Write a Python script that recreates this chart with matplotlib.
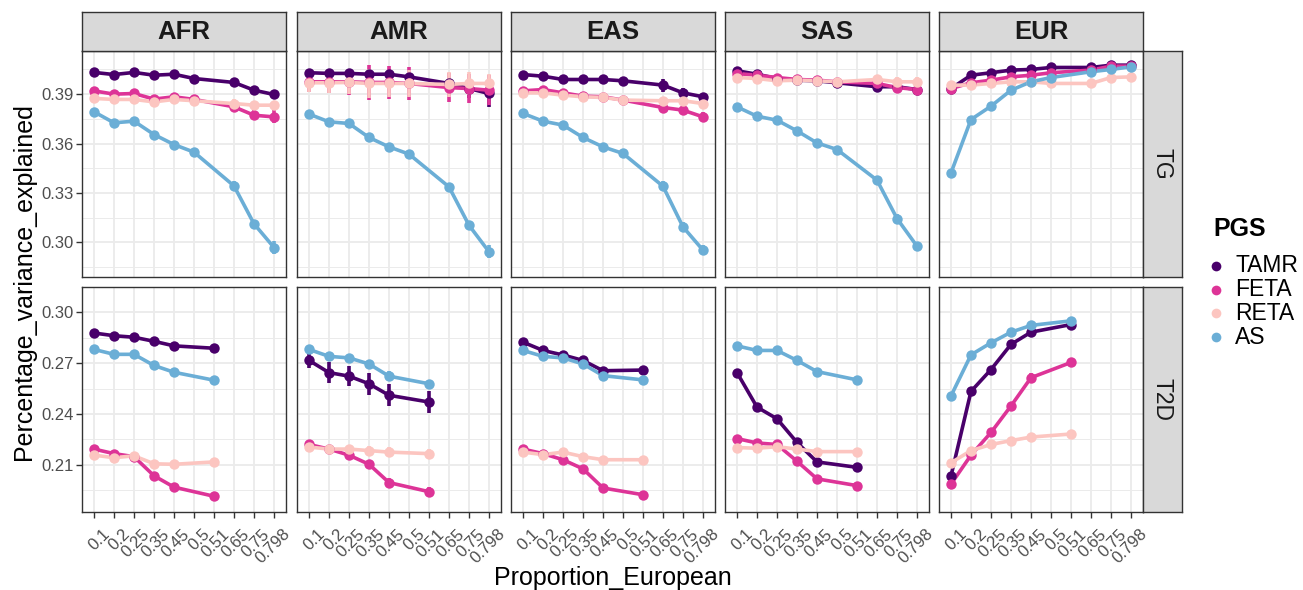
import matplotlib
matplotlib.use('Agg')
import matplotlib.pyplot as plt
import matplotlib.transforms as mtransforms
from matplotlib.lines import Line2D

plt.rcParams['font.family'] = ['Liberation Sans', 'DejaVu Sans']

# x categories (discrete)
proportions = ['0.1', '0.2', '0.25', '0.35', '0.45', '0.5', '0.51', '0.65', '0.75', '0.798']
tg_props = ['0.1', '0.2', '0.25', '0.35', '0.45', '0.5', '0.65', '0.75', '0.798']
t2d_props = ['0.1', '0.2', '0.25', '0.35', '0.45', '0.51']

regions = ['AFR', 'AMR', 'EAS', 'SAS', 'EUR']
traits = ['TG', 'T2D']
pgs = ['TAMR', 'FETA', 'RETA', 'AS']
pgs_colors = ['#49006A', '#DD3497', '#FCC5C0', '#6BAED6']

# ---- TG values ----
AFR_TG = {
    'TAMR': [0.4032, 0.4019, 0.4032, 0.4015, 0.4021, 0.3995, 0.3971, 0.3924, 0.3898],
    'FETA': [0.3920, 0.3900, 0.3904, 0.3870, 0.3884, 0.3868, 0.3823, 0.3772, 0.3762],
    'RETA': [0.3874, 0.3868, 0.3868, 0.3853, 0.3868, 0.3860, 0.3843, 0.3833, 0.3833],
    'AS':   [0.3793, 0.3726, 0.3736, 0.3655, 0.3594, 0.3548, 0.3343, 0.3113, 0.2969],
}
AFR_TG_ERR = {
    'TAMR': [0.0010, 0.0012, 0.0012, 0.0015, 0.0010, 0.0012, 0.0030, 0.0020, 0.0020],
    'FETA': [0.0015, 0.0015, 0.0020, 0.0020, 0.0015, 0.0015, 0.0025, 0.0030, 0.0040],
    'RETA': [0.0015, 0.0015, 0.0020, 0.0020, 0.0015, 0.0020, 0.0025, 0.0020, 0.0020],
    'AS':   [0.0010, 0.0010, 0.0012, 0.0015, 0.0010, 0.0012, 0.0030, 0.0020, 0.0040],
}
AMR_TG = {
    'TAMR': [0.4030, 0.4026, 0.4026, 0.4021, 0.4021, 0.4005, 0.3965, 0.3934, 0.3904],
    'FETA': [0.3975, 0.3975, 0.3975, 0.3971, 0.3971, 0.3965, 0.3940, 0.3934, 0.3924],
    'RETA': [0.3969, 0.3969, 0.3971, 0.3965, 0.3965, 0.3965, 0.3959, 0.3965, 0.3965],
    'AS':   [0.3779, 0.3732, 0.3722, 0.3637, 0.3580, 0.3536, 0.3337, 0.3104, 0.2943],
}
AMR_TG_ERR = {
    'TAMR': [0.0015, 0.0015, 0.0015, 0.0015, 0.0015, 0.0020, 0.0030, 0.0055, 0.0080],
    'FETA': [0.0060, 0.0070, 0.0080, 0.0105, 0.0100, 0.0100, 0.0090, 0.0090, 0.0090],
    'RETA': [0.0055, 0.0065, 0.0070, 0.0090, 0.0080, 0.0080, 0.0075, 0.0070, 0.0060],
    'AS':   [0.0015, 0.0015, 0.0015, 0.0020, 0.0020, 0.0020, 0.0020, 0.0025, 0.0040],
}
EAS_TG = {
    'TAMR': [0.4019, 0.4009, 0.3989, 0.3989, 0.3989, 0.3981, 0.3955, 0.3908, 0.3884],
    'FETA': [0.3920, 0.3928, 0.3908, 0.3888, 0.3884, 0.3864, 0.3819, 0.3803, 0.3762],
    'RETA': [0.3908, 0.3908, 0.3894, 0.3884, 0.3880, 0.3864, 0.3860, 0.3860, 0.3843],
    'AS':   [0.3783, 0.3736, 0.3712, 0.3637, 0.3580, 0.3540, 0.3341, 0.3094, 0.2953],
}
EAS_TG_ERR = {
    'TAMR': [0.0010, 0.0010, 0.0015, 0.0015, 0.0015, 0.0015, 0.0040, 0.0030, 0.0020],
    'FETA': [0.0015, 0.0015, 0.0020, 0.0020, 0.0015, 0.0020, 0.0030, 0.0030, 0.0030],
    'RETA': [0.0015, 0.0015, 0.0020, 0.0020, 0.0015, 0.0020, 0.0020, 0.0020, 0.0020],
    'AS':   [0.0012, 0.0010, 0.0015, 0.0015, 0.0015, 0.0015, 0.0030, 0.0030, 0.0030],
}
SAS_TG = {
    'TAMR': [0.4042, 0.4021, 0.3995, 0.3985, 0.3981, 0.3969, 0.3945, 0.3945, 0.3928],
    'FETA': [0.4025, 0.4015, 0.4001, 0.3989, 0.3985, 0.3975, 0.3965, 0.3940, 0.3928],
    'RETA': [0.4001, 0.3995, 0.3981, 0.3985, 0.3981, 0.3975, 0.3989, 0.3975, 0.3975],
    'AS':   [0.3823, 0.3766, 0.3742, 0.3677, 0.3604, 0.3564, 0.3378, 0.3145, 0.2977],
}
SAS_TG_ERR = {
    'TAMR': [0.0010, 0.0010, 0.0010, 0.0010, 0.0010, 0.0010, 0.0015, 0.0015, 0.0015],
    'FETA': [0.0010, 0.0010, 0.0010, 0.0010, 0.0015, 0.0015, 0.0015, 0.0030, 0.0030],
    'RETA': [0.0010, 0.0010, 0.0010, 0.0010, 0.0015, 0.0015, 0.0015, 0.0030, 0.0030],
    'AS':   [0.0010, 0.0010, 0.0010, 0.0010, 0.0015, 0.0012, 0.0020, 0.0030, 0.0025],
}
EUR_TG = {
    'TAMR': [0.3934, 0.4015, 0.4030, 0.4046, 0.4050, 0.4062, 0.4062, 0.4076, 0.4076],
    'FETA': [0.3934, 0.3969, 0.3985, 0.4005, 0.4015, 0.4030, 0.4046, 0.4070, 0.4070],
    'RETA': [0.3955, 0.3955, 0.3965, 0.3975, 0.3975, 0.3965, 0.3965, 0.4001, 0.4005],
    'AS':   [0.3422, 0.3746, 0.3827, 0.3924, 0.3975, 0.4001, 0.4036, 0.4050, 0.4066],
}
EUR_TG_ERR = {
    'TAMR': [0.0012, 0.0010, 0.0010, 0.0010, 0.0010, 0.0010, 0.0010, 0.0010, 0.0010],
    'FETA': [0.0015, 0.0010, 0.0010, 0.0010, 0.0010, 0.0010, 0.0010, 0.0010, 0.0010],
    'RETA': [0.0012, 0.0010, 0.0010, 0.0010, 0.0010, 0.0010, 0.0012, 0.0010, 0.0010],
    'AS':   [0.0020, 0.0012, 0.0012, 0.0010, 0.0010, 0.0010, 0.0010, 0.0010, 0.0010],
}

# ---- T2D values ----
AFR_T2D = {
    'TAMR': [0.2878, 0.2862, 0.2853, 0.2829, 0.2802, 0.2788],
    'FETA': [0.2192, 0.2165, 0.2147, 0.2034, 0.1967, 0.1913],
    'RETA': [0.2156, 0.2141, 0.2152, 0.2105, 0.2102, 0.2116],
    'AS':   [0.2781, 0.2752, 0.2752, 0.2686, 0.2646, 0.2599],
}
AFR_T2D_ERR = {
    'TAMR': [0.0012, 0.0012, 0.0012, 0.0018, 0.0015, 0.0018],
    'FETA': [0.0020, 0.0015, 0.0020, 0.0025, 0.0025, 0.0020],
    'RETA': [0.0015, 0.0015, 0.0015, 0.0020, 0.0020, 0.0015],
    'AS':   [0.0012, 0.0012, 0.0012, 0.0018, 0.0015, 0.0020],
}
AMR_T2D = {
    'TAMR': [0.2716, 0.2644, 0.2623, 0.2578, 0.2510, 0.2470],
    'FETA': [0.2219, 0.2192, 0.2156, 0.2102, 0.1994, 0.1940],
    'RETA': [0.2204, 0.2192, 0.2192, 0.2183, 0.2174, 0.2165],
    'AS':   [0.2781, 0.2740, 0.2731, 0.2695, 0.2623, 0.2578],
}
AMR_T2D_ERR = {
    'TAMR': [0.0045, 0.0060, 0.0060, 0.0065, 0.0065, 0.0065],
    'FETA': [0.0020, 0.0020, 0.0020, 0.0020, 0.0025, 0.0025],
    'RETA': [0.0025, 0.0020, 0.0025, 0.0025, 0.0030, 0.0030],
    'AS':   [0.0020, 0.0025, 0.0025, 0.0020, 0.0030, 0.0025],
}
EAS_T2D = {
    'TAMR': [0.2824, 0.2775, 0.2748, 0.2716, 0.2655, 0.2659],
    'FETA': [0.2192, 0.2165, 0.2129, 0.2075, 0.1962, 0.1922],
    'RETA': [0.2174, 0.2159, 0.2174, 0.2147, 0.2129, 0.2129],
    'AS':   [0.2775, 0.2740, 0.2731, 0.2695, 0.2626, 0.2601],
}
EAS_T2D_ERR = {
    'TAMR': [0.0015, 0.0015, 0.0020, 0.0015, 0.0015, 0.0020],
    'FETA': [0.0015, 0.0015, 0.0020, 0.0020, 0.0020, 0.0025],
    'RETA': [0.0020, 0.0020, 0.0020, 0.0020, 0.0020, 0.0020],
    'AS':   [0.0015, 0.0015, 0.0020, 0.0015, 0.0015, 0.0015],
}
SAS_T2D = {
    'TAMR': [0.2644, 0.2440, 0.2371, 0.2231, 0.2116, 0.2084],
    'FETA': [0.2254, 0.2228, 0.2219, 0.2120, 0.2016, 0.1976],
    'RETA': [0.2201, 0.2197, 0.2206, 0.2192, 0.2177, 0.2177],
    'AS':   [0.2802, 0.2775, 0.2775, 0.2716, 0.2650, 0.2601],
}
SAS_T2D_ERR = {
    'TAMR': [0.0020, 0.0015, 0.0015, 0.0015, 0.0015, 0.0020],
    'FETA': [0.0012, 0.0012, 0.0012, 0.0015, 0.0015, 0.0015],
    'RETA': [0.0015, 0.0015, 0.0015, 0.0012, 0.0012, 0.0012],
    'AS':   [0.0012, 0.0012, 0.0012, 0.0012, 0.0010, 0.0012],
}
EUR_T2D = {
    'TAMR': [0.2033, 0.2533, 0.2662, 0.2811, 0.2883, 0.2928],
    'FETA': [0.1985, 0.2156, 0.2290, 0.2447, 0.2614, 0.2704],
    'RETA': [0.2111, 0.2183, 0.2219, 0.2242, 0.2263, 0.2281],
    'AS':   [0.2506, 0.2749, 0.2820, 0.2883, 0.2923, 0.2950],
}
EUR_T2D_ERR = {
    'TAMR': [0.0015, 0.0025, 0.0015, 0.0015, 0.0015, 0.0010],
    'FETA': [0.0025, 0.0015, 0.0012, 0.0012, 0.0025, 0.0010],
    'RETA': [0.0015, 0.0010, 0.0010, 0.0010, 0.0010, 0.0010],
    'AS':   [0.0020, 0.0015, 0.0010, 0.0012, 0.0015, 0.0010],
}

panel_data = {
    ('TG', 'AFR'): (AFR_TG, AFR_TG_ERR), ('TG', 'AMR'): (AMR_TG, AMR_TG_ERR),
    ('TG', 'EAS'): (EAS_TG, EAS_TG_ERR), ('TG', 'SAS'): (SAS_TG, SAS_TG_ERR),
    ('TG', 'EUR'): (EUR_TG, EUR_TG_ERR),
    ('T2D', 'AFR'): (AFR_T2D, AFR_T2D_ERR), ('T2D', 'AMR'): (AMR_T2D, AMR_T2D_ERR),
    ('T2D', 'EAS'): (EAS_T2D, EAS_T2D_ERR), ('T2D', 'SAS'): (SAS_T2D, SAS_T2D_ERR),
    ('T2D', 'EUR'): (EUR_T2D, EUR_T2D_ERR),
}
trait_props = {'TG': tg_props, 'T2D': t2d_props}
trait_ylim = {'TG': (0.2790, 0.4162), 'T2D': (0.1820, 0.3036)}
trait_yticks = {'TG': [0.30, 0.33, 0.36, 0.39], 'T2D': [0.21, 0.24, 0.27, 0.30]}

# ---- layout (pixels) ----
W, H = 1303, 590
col_left = [82, 297, 511, 725, 939]
col_w = 204
row_top = [51, 287]
row_h = [226, 225]
strip_h = 39
strip_w = 39

fig = plt.figure(figsize=(W / 100, H / 100), dpi=100)

border = '#333333'
grid_col = '#EBEBEB'
tick_col = '#4D4D4D'

def box(l, t, w, h):
    return [l / W, 1 - (t + h) / H, w / W, h / H]

# shift of the rotated x labels (ggplot puts them a bit right/down)
lab_shift = mtransforms.ScaledTranslation(8 / 100, -6 / 100, fig.dpi_scale_trans)

for r, trait in enumerate(traits):
    lo, hi = trait_ylim[trait]
    yt = trait_yticks[trait]
    for c, reg in enumerate(regions):
        ax = fig.add_axes(box(col_left[c], row_top[r], col_w, row_h[r]))
        ax.set_xlim(-0.6, len(proportions) - 1 + 0.6)
        ax.set_ylim(lo, hi)
        ax.set_xticks(range(len(proportions)))
        ax.set_yticks(yt)
        ax.set_yticks([v + 0.015 for v in yt] + [yt[0] - 0.015], minor=True)
        ax.grid(which='major', color=grid_col, lw=1.3, zorder=0)
        ax.grid(which='minor', axis='y', color=grid_col, lw=0.7, zorder=0)
        ax.set_axisbelow(True)
        ax.tick_params(which='major', length=4, width=1, color=border,
                       labelsize=12, labelcolor=tick_col, pad=2)
        ax.tick_params(which='minor', length=0)
        for s in ax.spines.values():
            s.set_color(border)
            s.set_linewidth(1.0)

        if r == len(traits) - 1:
            ax.set_xticklabels(proportions, rotation=45, ha='right',
                               rotation_mode='anchor')
            for lab in ax.get_xticklabels():
                lab.set_transform(lab.get_transform() + lab_shift)
        else:
            ax.tick_params(axis='x', length=0, labelbottom=False)
        if c == 0:
            ax.set_yticklabels(['%.2f' % v for v in yt])
        else:
            ax.tick_params(axis='y', length=0, labelleft=False)

        vals, errs = panel_data[(trait, reg)]
        xs = [proportions.index(p) for p in trait_props[trait]]
        for name, col in zip(pgs, pgs_colors):
            ax.plot(xs, vals[name], color=col, lw=2.6, zorder=2,
                    solid_capstyle='butt')
        for name, col in zip(pgs, pgs_colors):
            ax.errorbar(xs, vals[name], yerr=errs[name], fmt='none',
                        ecolor=col, elinewidth=2.6, capsize=0, zorder=3)
        for name, col in zip(pgs, pgs_colors):
            ax.plot(xs, vals[name], 'o', color=col, ms=7.5, mec='none', zorder=4)

        # top strips
        if r == 0:
            sa = fig.add_axes(box(col_left[c], row_top[0] - strip_h, col_w, strip_h))
            sa.set_facecolor('#D9D9D9')
            sa.set_xticks([])
            sa.set_yticks([])
            for s in sa.spines.values():
                s.set_color(border)
                s.set_linewidth(1.0)
            sa.text(0.5, 0.48, reg, ha='center', va='center', fontsize=18.5,
                    fontweight='bold', color='#1A1A1A', transform=sa.transAxes)

    # right strips
    sr = fig.add_axes(box(col_left[-1] + col_w, row_top[r], strip_w, row_h[r]))
    sr.set_facecolor('#D9D9D9')
    sr.set_xticks([])
    sr.set_yticks([])
    for s in sr.spines.values():
        s.set_color(border)
        s.set_linewidth(1.0)
    sr.text(0.5, 0.5, trait, ha='center', va='center', rotation=-90,
            fontsize=16.5, color='#1A1A1A', transform=sr.transAxes)

# axis titles
fig.text((col_left[0] + col_left[-1] + col_w) / 2 / W, 1 - 578 / H,
         'Proportion_European', ha='center', va='center', fontsize=18)
fig.text(24 / W, 1 - 281.5 / H, 'Percentage_variance_explained',
         ha='center', va='center', rotation=90, fontsize=18)

# legend (drawn by hand to get ggplot spacing)
fig.text(1213 / W, 1 - 229 / H, 'PGS', ha='left', va='center',
         fontsize=18, fontweight='bold')
leg_y = [266, 290, 313, 337]
for name, col, y in zip(pgs, pgs_colors, leg_y):
    fig.add_artist(Line2D([1216 / W], [1 - y / H], ls='none', marker='o',
                          color=col, ms=7, mec='none', transform=fig.transFigure))
    fig.text(1235 / W, 1 - y / H, name, ha='left', va='center', fontsize=16.5)

fig.savefig('out.png', dpi=100)
